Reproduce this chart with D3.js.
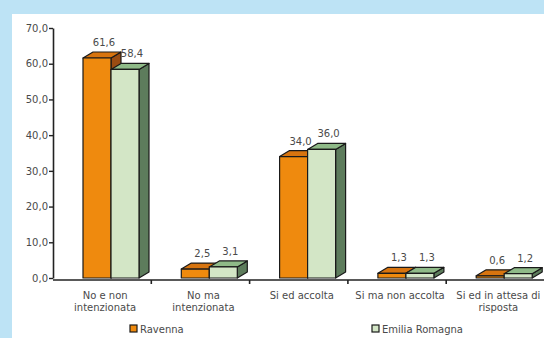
<!DOCTYPE html>
<html>
<head>
<meta charset="utf-8">
<script src="https://cdn.jsdelivr.net/npm/d3@7"></script>
<style>
  body { margin: 0; background: #bde3f5; }
  svg { display: block; }
  text { font-family: "DejaVu Sans", Verdana, sans-serif; fill: #4a4a4a; }
</style>
</head>
<body>
<div id="chart"></div>
<script>
const categories = [
    ['No e non', 'intenzionata'],
    ['No ma', 'intenzionata'],
    ['Si ed accolta'],
    ['Si ma non accolta'],
    ['Si ed in attesa di', 'risposta'],
];
const ravenna = [61.6, 2.5, 34.0, 1.3, 0.6];
const emilia = [58.4, 3.1, 36.0, 1.3, 1.2];
const seriesNames = ['Ravenna', 'Emilia Romagna'];
const yTicks = [0, 10, 20, 30, 40, 50, 60, 70];

const width = 544;
const height = 338;
const margin = { top: 28, bottom: 60, left: 53 };
const depth = { dx: 10, dy: -6 };

const colors = [
    { front: '#ef8a0e', top: '#d7740f', side: '#9a4c12' },
    { front: '#d3e6c6', top: '#8fba88', side: '#5d7c5c' },
];

const svg = d3
    .select('#chart')
    .append('svg')
    .attr('width', width)
    .attr('height', height);

// white panel
svg.append('rect')
    .attr('x', 12)
    .attr('y', 14)
    .attr('width', width - 12)
    .attr('height', height - 14)
    .attr('fill', '#ffffff');

const x = d3
    .scaleBand()
    .domain(d3.range(categories.length))
    .range([margin.left, margin.left + 98.3 * categories.length])
    .padding(0);

const y = d3
    .scaleLinear()
    .domain([0, 70])
    .range([height - margin.bottom, margin.top]);

const fmt = (v) => v.toFixed(1).replace('.', ',');

// y axis
const yAxis = svg.append('g')
    .attr('transform', `translate(${margin.left},0)`)
    .call(d3.axisLeft(y).tickValues(yTicks).tickFormat(fmt).tickSize(4).tickSizeOuter(0));
yAxis.select('.domain').attr('stroke', '#222').attr('stroke-width', 1.6);
yAxis.selectAll('.tick line').attr('stroke', '#222').attr('stroke-width', 1.4);
yAxis.selectAll('.tick text')
    .attr('x', -5)
    .style('font-size', '10px')
    .style('font-family', '"DejaVu Sans", sans-serif')
    .attr('fill', '#4a4a4a');

// x axis
const baseY = y(0) + 2;
svg.append('line')
    .attr('x1', margin.left)
    .attr('x2', width)
    .attr('y1', baseY)
    .attr('y2', baseY)
    .attr('stroke', '#222')
    .attr('stroke-width', 1.6);

svg.append('g')
    .selectAll('line')
    .data(d3.range(1, categories.length))
    .join('line')
    .attr('x1', (i) => x(i))
    .attr('x2', (i) => x(i))
    .attr('y1', baseY)
    .attr('y2', baseY + 4)
    .attr('stroke', '#222')
    .attr('stroke-width', 1.6);

// 3d bars
const barW = 28;
const rows = [];
categories.forEach((c, i) => {
    [ravenna[i], emilia[i]].forEach((v, s) => {
        rows.push({ cat: i, s: s, v: v });
    });
});

const bx = (d) => x(d.cat) + 30 + d.s * barW;
const y0 = y(0);

const bars = svg.append('g')
    .selectAll('g')
    .data(rows)
    .join('g')
    .attr('stroke', '#1a1a1a')
    .attr('stroke-width', 1.2)
    .attr('stroke-linejoin', 'round');

// side face
bars.append('path')
    .attr('fill', (d) => colors[d.s].side)
    .attr('d', (d) => {
        const xr = bx(d) + barW;
        const yt = y(d.v);
        return `M${xr},${y0}L${xr + depth.dx},${y0 + depth.dy}L${xr + depth.dx},${yt + depth.dy}L${xr},${yt}Z`;
    });

// top face
bars.append('path')
    .attr('fill', (d) => colors[d.s].top)
    .attr('d', (d) => {
        const xl = bx(d);
        const yt = y(d.v);
        return `M${xl},${yt}L${xl + depth.dx},${yt + depth.dy}L${xl + barW + depth.dx},${yt + depth.dy}L${xl + barW},${yt}Z`;
    });

// front face
bars.append('rect')
    .attr('fill', (d) => colors[d.s].front)
    .attr('x', (d) => bx(d))
    .attr('y', (d) => y(d.v))
    .attr('width', barW)
    .attr('height', (d) => y0 - y(d.v));

// value labels
svg.append('g')
    .selectAll('text')
    .data(rows)
    .join('text')
    .attr('x', (d) => bx(d) + barW / 2 + 7)
    .attr('y', (d) => y(d.v) - 12)
    .attr('text-anchor', 'middle')
    .style('font-size', '10px')
    .text((d) => fmt(d.v));

// category labels
const catLabels = svg.append('g')
    .selectAll('text')
    .data(categories)
    .join('text')
    .attr('x', (d, i) => x(i) + x.bandwidth() / 2 + 3)
    .attr('y', 299)
    .attr('text-anchor', 'middle')
    .style('font-size', '10px');

catLabels.selectAll('tspan')
    .data((d) => d)
    .join('tspan')
    .attr('x', function () { return d3.select(this.parentNode).attr('x'); })
    .attr('dy', (d, j) => (j === 0 ? 0 : 12))
    .text((d) => d);

// legend
const legendX = [130, 372];
const legend = svg.append('g')
    .selectAll('g')
    .data(seriesNames)
    .join('g')
    .attr('transform', (d, i) => `translate(${legendX[i]},325)`);

legend.append('rect')
    .attr('width', 7)
    .attr('height', 7)
    .attr('fill', (d, i) => colors[i].front)
    .attr('stroke', '#1a1a1a')
    .attr('stroke-width', 1.2);

legend.append('text')
    .attr('x', 10)
    .attr('y', 7.5)
    .style('font-size', '10px')
    .text((d) => d);
</script>
</body>
</html>
